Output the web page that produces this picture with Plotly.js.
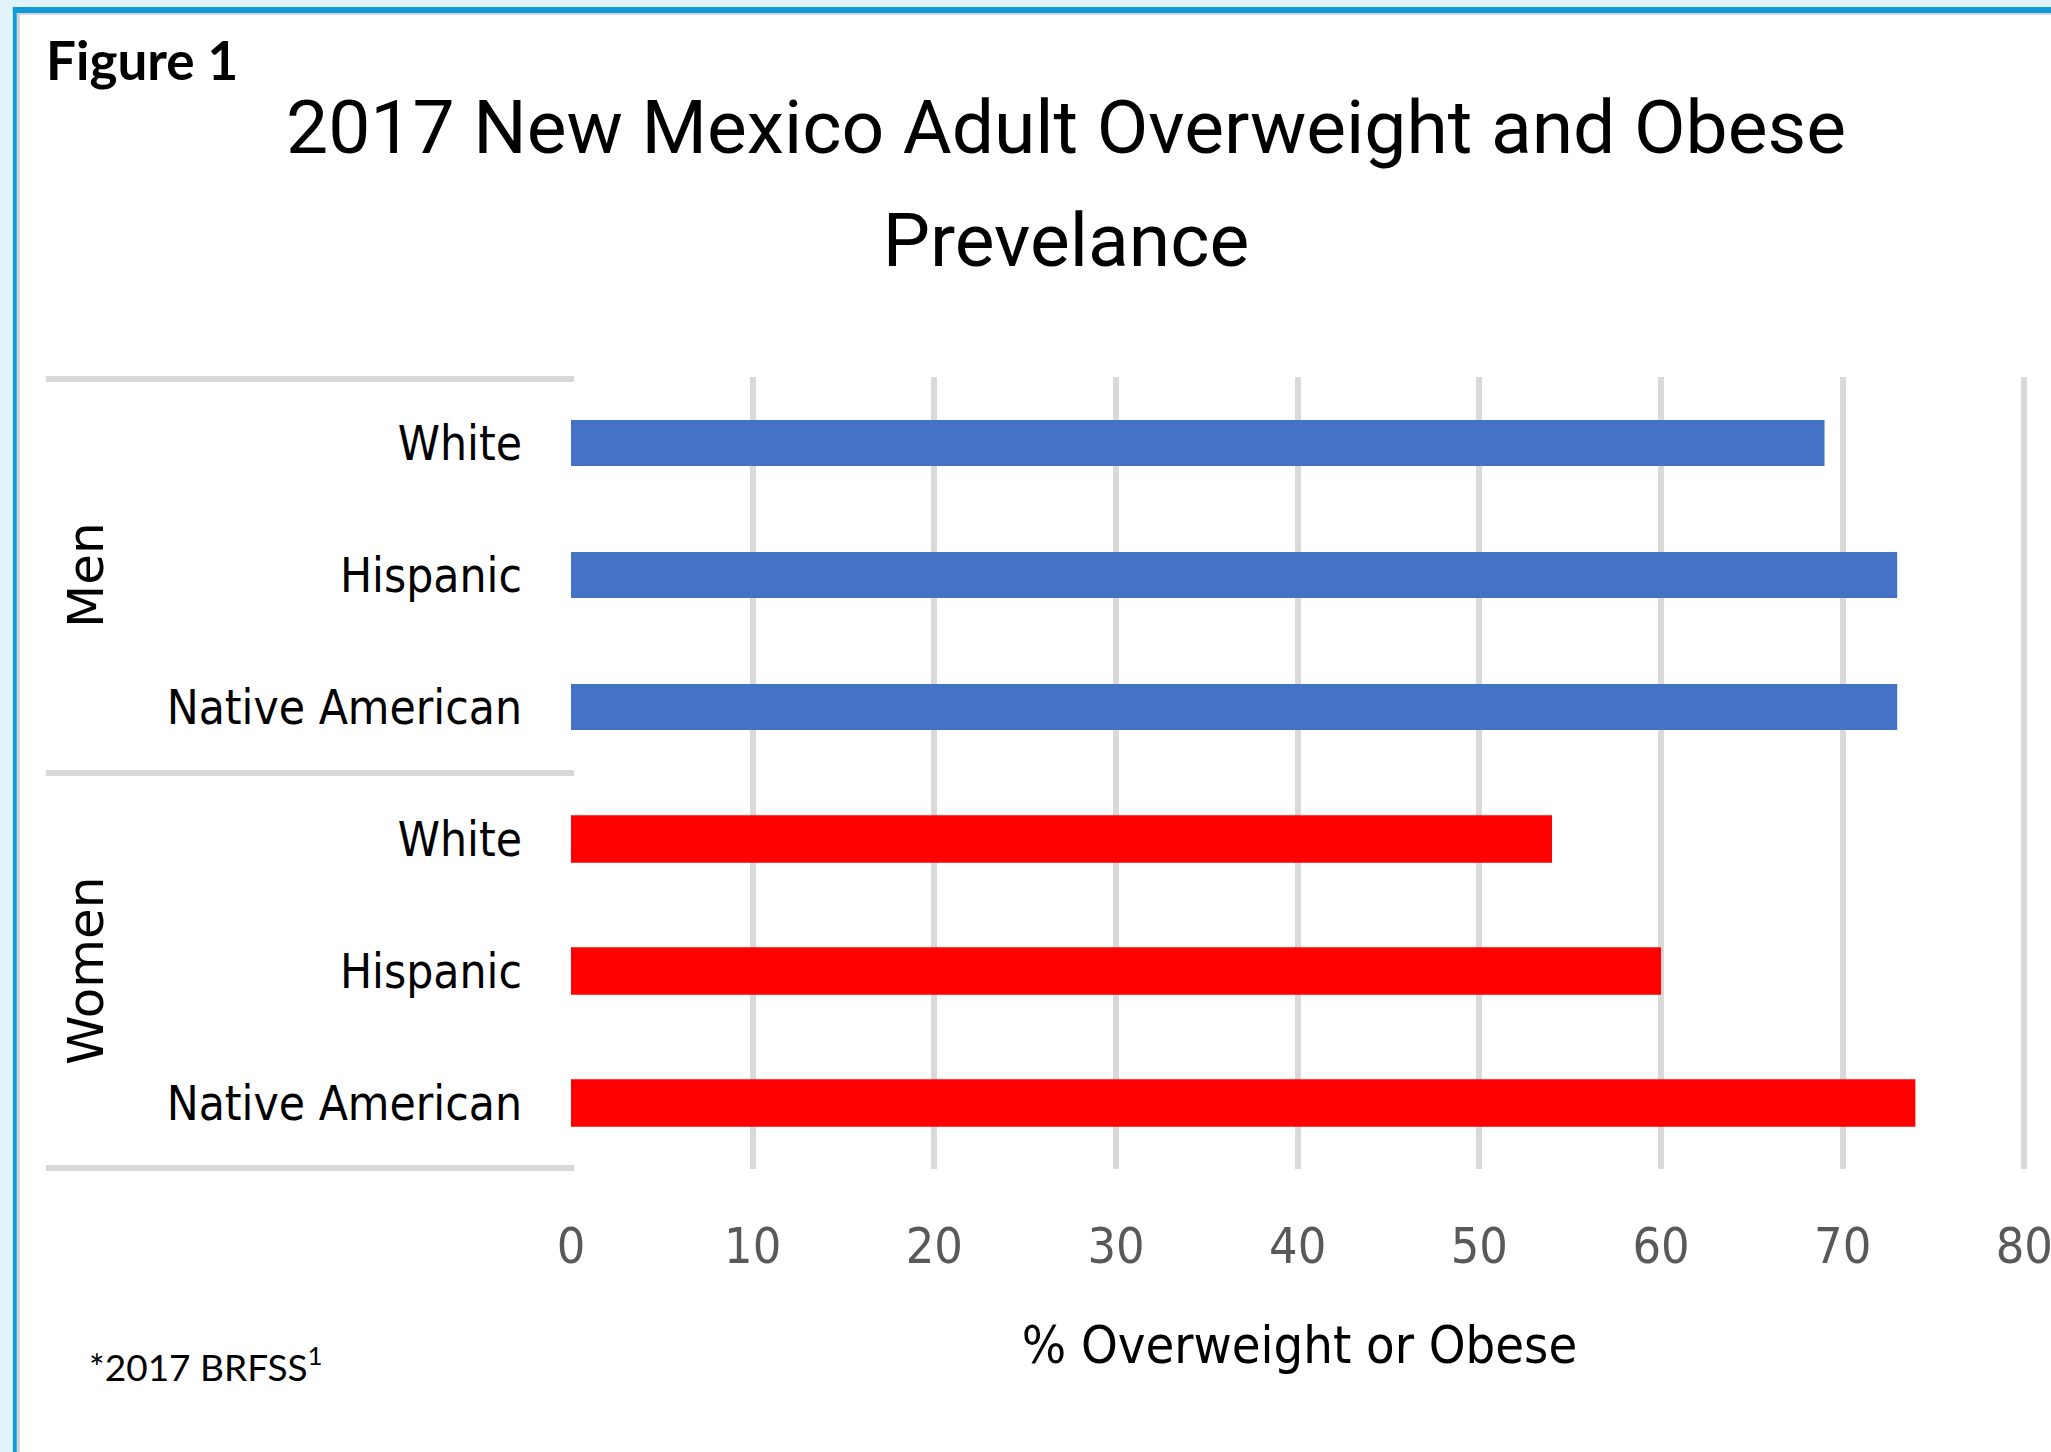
<!DOCTYPE html>
<html>
<head>
<meta charset="utf-8">
<script src="https://cdn.plot.ly/plotly-3.0.1.min.js"></script>
<style>
  html, body { margin: 0; padding: 0; background: #ffffff; }
  #chart { width: 2051px; height: 1452px; }
</style>
</head>
<body>
<div id="chart"></div>
<script>
// ---- Data ----
const groups = ['Men', 'Women'];
const ethnicities = ['White', 'Hispanic', 'Native American', 'White', 'Hispanic', 'Native American'];
const menValues = [69, 73, 73];
const womenValues = [54, 60, 74];
const xTickValues = [0, 10, 20, 30, 40, 50, 60, 70, 80];
const chartTitle = '2017 New Mexico Adult Overweight and Obese<br>Prevelance';
const xAxisTitle = '% Overweight or Obese';
const figureLabel = 'Figure 1';
const footnote = '*2017 BRFSS<sup>1</sup>';

// ---- Layout geometry ----
const FW = 2051, FH = 1452;
const X_MAX = 80.2;                // small headroom so the 80 gridline is drawn
const L = 571, T = 377, B = 1169;
const PX_PER_UNIT = 1453 / 80;
const R = L + PX_PER_UNIT * X_MAX;
const PW = R - L, PH = B - T;
const px = v => (v - L) / PW;
const py = v => (B - v) / PH;

const narrow = '"Liberation Sans Narrow", "Arial Narrow", "DejaVu Sans Condensed", sans-serif';
const TITLE_SIZE = 75;

const menIdx = [0, 1, 2];
const womenIdx = [3, 4, 5];

const traces = [
  {
    type: 'bar', orientation: 'h', name: groups[0],
    x: menValues, y: menIdx,
    width: 0.35,
    marker: { color: '#4472c4' },
    hoverinfo: 'x'
  },
  {
    type: 'bar', orientation: 'h', name: groups[1],
    x: womenValues, y: womenIdx,
    width: 0.36,
    marker: { color: '#ff0000' },
    hoverinfo: 'x'
  }
];

function rect(x0, y0, x1, y1, color) {
  return { type: 'rect', xref: 'paper', yref: 'paper', layer: 'above',
    x0: px(x0), x1: px(x1), y0: py(y0), y1: py(y1),
    fillcolor: color, line: { width: 0 } };
}
function hline(x0, x1, y, color, w) {
  return { type: 'line', xref: 'paper', yref: 'paper', layer: 'below',
    x0: px(x0), x1: px(x1), y0: py(y), y1: py(y),
    line: { color: color, width: w } };
}

const shapes = [
  rect(0, 0, FW, 7, '#e1f3fb'),
  rect(0, 0, 13, FH, '#e1f3fb'),
  rect(13, 7, FW, 13, '#0e9ad7'),
  rect(13, 7, 17, FH, '#0e9ad7'),
  rect(17, 13, FW, 15, '#d4d4d4'),
  rect(17, 13, 20, FH, '#d4d4d4'),
  hline(46, 574, 379, '#d9d9d9', 6),
  hline(46, 574, 773, '#d9d9d9', 6),
  hline(46, 574, 1168, '#d9d9d9', 6)
];

const annotations = [
  { text: groups[0], xref: 'paper', yref: 'paper', x: px(86), y: py(575),
    showarrow: false, textangle: -90, xanchor: 'center', yanchor: 'middle',
    font: { family: '"DejaVu Sans", sans-serif', size: 50, color: '#000000' } },
  { text: groups[1], xref: 'paper', yref: 'paper', x: px(86), y: py(971),
    showarrow: false, textangle: -90, xanchor: 'center', yanchor: 'middle',
    font: { family: '"DejaVu Sans", sans-serif', size: 50, color: '#000000' } },
  { text: '<b>' + figureLabel + '</b>', xref: 'paper', yref: 'paper', x: px(44), y: py(60),
    showarrow: false, xanchor: 'left', yanchor: 'middle',
    font: { family: 'Lato, "Open Sans", sans-serif', size: 53, color: '#000000' } },
  { text: footnote, xref: 'paper', yref: 'paper', x: px(87), y: py(1364),
    showarrow: false, xanchor: 'left', yanchor: 'middle',
    font: { family: 'Lato, "Open Sans", sans-serif', size: 37, color: '#000000' } }
];

const layout = {
  width: FW, height: FH,
  margin: { l: L, r: FW - R, t: T, b: FH - B, pad: 0 },
  paper_bgcolor: '#ffffff', plot_bgcolor: '#ffffff',
  showlegend: false,
  barmode: 'overlay',
  title: {
    text: chartTitle,
    x: 1066 / FW, xanchor: 'center', xref: 'container',
    y: 1 - 153 / FH, yanchor: 'top', yref: 'container',
    font: { family: 'Roboto, sans-serif', size: TITLE_SIZE, color: '#000000' }
  },
  xaxis: {
    range: [0, X_MAX],
    tickvals: xTickValues,
    showgrid: true, gridcolor: '#d9d9d9', gridwidth: 6,
    zeroline: false, showline: false, ticks: '',
    ticklabelstandoff: 43,
    ticklabeloverflow: 'allow',
    tickfont: { family: narrow, size: 50, color: '#595959' },
    title: { text: xAxisTitle, standoff: 52,
      font: { family: narrow, size: 52, color: '#000000' } },
    fixedrange: true
  },
  yaxis: {
    range: [5.5, -0.5],
    tickvals: ethnicities.map((_, i) => i),
    ticktext: ethnicities,
    showgrid: false, zeroline: false, showline: false, ticks: '',
    ticklabelstandoff: 48,
    tickfont: { family: narrow, size: 47.5, color: '#000000' },
    fixedrange: true
  },
  shapes: shapes,
  annotations: annotations
};

Plotly.newPlot('chart', traces, layout, { displayModeBar: false, staticPlot: true }).then(function () {
  // widen the title's line spacing to match the reference (113px between baselines)
  const lines = document.querySelectorAll('.gtitle tspan.line');
  if (lines.length > 1) {
    lines[1].setAttribute('dy', (113 / TITLE_SIZE) + 'em');
  }
});
</script>
</body>
</html>
